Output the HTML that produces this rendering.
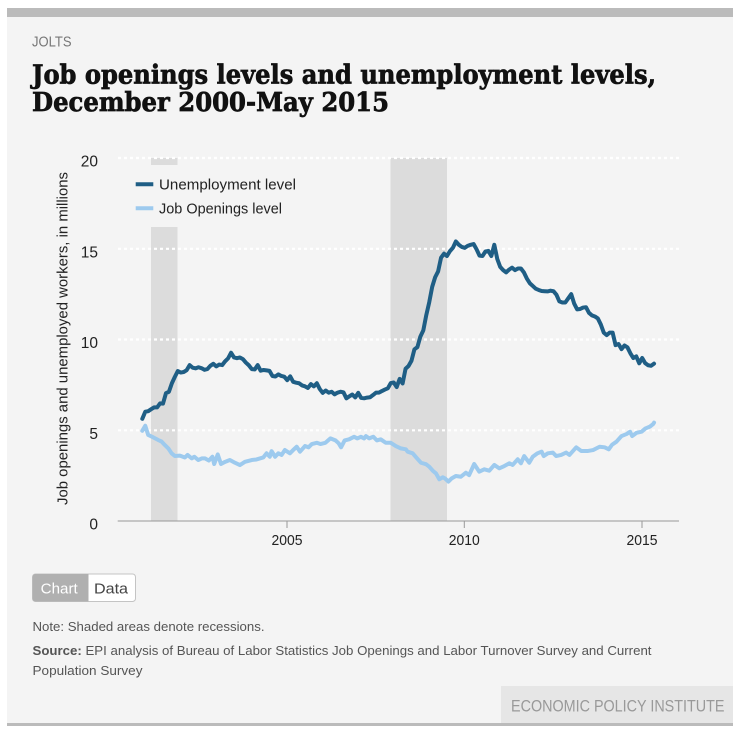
<!DOCTYPE html>
<html>
<head>
<meta charset="utf-8">
<style>
html,body{margin:0;padding:0;background:#fff;}
svg{display:block;}
text{font-family:"Liberation Sans",sans-serif;}
</style>
</head>
<body>
<svg width="750" height="739" viewBox="0 0 750 739" xmlns="http://www.w3.org/2000/svg">
  <rect x="0" y="0" width="750" height="739" fill="#ffffff"/>
  <!-- panel -->
  <rect x="7" y="8" width="726" height="718" fill="#f4f4f4"/>
  <rect x="7" y="8" width="726" height="9" fill="#bbbbbb"/>
  <rect x="7" y="723" width="726" height="3" fill="#bbbbbb"/>
  <rect x="501" y="686" width="232" height="37" fill="#e6e6e6"/>

  <!-- header -->
  <text x="32" y="46.7" font-size="15" fill="#777" textLength="39.5" lengthAdjust="spacingAndGlyphs">JOLTS</text>
  <text x="32" y="83.5" font-size="26" font-weight="bold" fill="#111" stroke="#111" stroke-width="0.7" style="font-family:'DejaVu Serif','Liberation Serif',serif" textLength="624" lengthAdjust="spacingAndGlyphs">Job openings levels and unemployment levels,</text>
  <text x="32" y="111" font-size="26" font-weight="bold" fill="#111" stroke="#111" stroke-width="0.7" style="font-family:'DejaVu Serif','Liberation Serif',serif" textLength="357" lengthAdjust="spacingAndGlyphs">December 2000-May 2015</text>

  <!-- recession shading -->
  <rect x="151" y="158" width="26.5" height="363" fill="#dcdcdc"/>
  <rect x="390.5" y="158" width="56.5" height="363" fill="#dcdcdc"/>

  <!-- gridlines -->
  <g stroke="#ffffff" stroke-width="2.2" stroke-dasharray="3,3">
    <line x1="118" y1="158" x2="679" y2="158"/>
    <line x1="118" y1="248.8" x2="679" y2="248.8"/>
    <line x1="118" y1="339.5" x2="679" y2="339.5"/>
    <line x1="118" y1="430.3" x2="679" y2="430.3"/>
  </g>

  <!-- x axis -->
  <line x1="117.7" y1="521" x2="679" y2="521" stroke="#999" stroke-width="1"/>
  <g stroke="#999" stroke-width="1">
    <line x1="287" y1="521" x2="287" y2="528"/>
    <line x1="464.3" y1="521" x2="464.3" y2="528"/>
    <line x1="642" y1="521" x2="642" y2="528"/>
  </g>
  <g font-size="15" fill="#222" text-anchor="middle">
    <text x="287" y="545" textLength="31" lengthAdjust="spacingAndGlyphs">2005</text>
    <text x="464.3" y="545" textLength="31" lengthAdjust="spacingAndGlyphs">2010</text>
    <text x="642" y="545" textLength="31" lengthAdjust="spacingAndGlyphs">2015</text>
  </g>

  <!-- y labels -->
  <g font-size="15.5" fill="#222" text-anchor="end">
    <text x="98" y="166.5">20</text>
    <text x="98" y="257.3">15</text>
    <text x="98" y="348">10</text>
    <text x="98" y="438.8">5</text>
    <text x="98" y="529.5">0</text>
  </g>
  <text transform="translate(67.5,338.5) rotate(-90)" text-anchor="middle" font-size="15" fill="#222" textLength="333" lengthAdjust="spacingAndGlyphs">Job openings and unemployed workers, in millions</text>

  <!-- series -->
  <g transform="translate(142.3,521) scale(2.958,-18.15)">
    <polyline fill="none" stroke="#9dcaee" stroke-width="4" stroke-linejoin="round" stroke-linecap="round" vector-effect="non-scaling-stroke"
      points="0,4.97 1,5.25 2,4.74 3.7,4.61 5.4,4.46 6.5,4.38 7.6,4.19 8.8,4.0 9.9,3.73 11,3.58 12.7,3.6 14.4,3.5 15.3,3.64 16.7,3.45 17.6,3.54 18.9,3.36 20.1,3.45 21.2,3.45 22.5,3.33 23.7,3.54 24.3,3.14 25.5,3.67 26.6,3.14 28,3.26 29.6,3.36 31.3,3.21 33,3.08 34.7,3.26 37,3.36 38.6,3.39 40.9,3.5 42,3.73 43.1,3.54 43.7,3.85 44.9,3.54 46,3.73 47.1,3.64 48.2,3.91 49.9,3.73 51,3.91 52.2,4.09 53.3,3.82 55,4.13 56.2,4.06 57.3,4.24 59,4.31 60.2,4.24 61.9,4.31 63.6,4.55 65.3,4.44 66.4,4.28 67.2,4.06 68.4,4.44 69.9,4.5 71.6,4.64 72.7,4.55 73.9,4.64 75,4.55 75.6,4.68 76.7,4.55 78.1,4.64 79.3,4.44 80.6,4.5 82.3,4.31 84,4.31 85.7,4.13 87.4,4.0 89.1,3.95 89.7,3.82 91.4,3.73 92.9,3.45 94.2,3.21 95.9,3.13 97,2.99 98.2,2.77 99.3,2.62 100.4,2.3 101.6,2.41 102.3,2.35 103.5,2.17 104.6,2.35 106,2.48 107.7,2.44 109.4,2.66 110.5,2.53 112.2,3.14 113.9,2.72 115.6,2.85 117.3,2.77 119,3.09 120.7,2.9 122.4,3.03 124.1,3.18 125.2,3.09 126.9,3.4 128,3.18 129.1,3.58 130.8,3.21 132,3.54 133.6,3.73 135,3.82 135.7,3.58 137.1,3.73 138.8,3.77 139.9,3.58 141.6,3.64 143.3,3.77 144.4,3.64 146.7,4.06 148.4,3.86 150.7,3.86 152.4,3.91 154.6,4.09 156.3,4.06 157.7,3.95 158.8,4.2 160.3,4.37 162,4.68 163.7,4.79 164.9,4.92 165.6,4.68 167.1,4.86 168.8,4.92 170.1,5.1 171.6,5.2 172.7,5.34 173,5.42"/>
    <polyline fill="none" stroke="#1f5e85" stroke-width="4" stroke-linejoin="round" stroke-linecap="round" vector-effect="non-scaling-stroke"
      points="0,5.63 1,6.02 2,6.05 3,6.16 4,6.26 5,6.26 6,6.48 7,6.47 8,7.04 9,7.12 10,7.59 11,7.94 12,8.26 13,8.18 14,8.21 15,8.31 16,8.59 17,8.45 18,8.41 19,8.47 20,8.42 21,8.33 22,8.37 23,8.55 24,8.66 25,8.52 26,8.62 27,8.59 28,8.8 29,8.96 30,9.27 31,9.01 32,8.97 33,9.01 34,8.92 35,8.73 36,8.58 37,8.37 38,8.35 39,8.59 40,8.28 41,8.32 42,8.3 43,8.27 44,7.99 45,7.96 46,8.08 47,7.99 48,7.95 49,7.76 50,7.97 51,7.67 52,7.62 53,7.59 54,7.47 55,7.42 56,7.33 57,7.54 58,7.42 59,7.59 60,7.27 61,7.06 62,7.19 63,7.07 64,7.12 65,6.98 66,7.07 67,7.12 68,7.09 69,6.76 70,6.87 71,6.97 72,6.81 73,7.06 74,6.78 75,6.76 76,6.8 77,6.82 78,6.94 79,7.07 80,7.07 81,7.16 82,7.24 83,7.31 84,7.6 85,7.63 86,7.38 87,7.83 88,7.58 89,8.39 90,8.54 91,8.83 92,9.46 93,9.58 94,10.16 95,10.5 96,11.34 97,12.05 98,12.9 99,13.43 100,13.75 101,14.51 102,14.73 103,14.6 104,14.87 105,15.05 106,15.4 107,15.22 108,15.1 109,15.05 110,15.16 111,15.22 112,15.26 113,14.97 114,14.62 115,14.6 116,14.85 117,14.88 118,14.6 119,15.22 120,14.44 121,14.0 122,13.82 123,13.7 124,13.85 125,13.96 126,13.82 127,13.91 128,13.91 129,13.7 130,13.36 131,13.1 132,12.95 133,12.8 134,12.73 135,12.67 136,12.66 137,12.65 138,12.69 139,12.66 140,12.47 141,12.1 142,12.04 143,12.04 144,12.27 145,12.5 146,11.98 147,11.66 148,11.68 149,11.76 150,11.78 151,11.47 152,11.33 153,11.27 154,11.16 155,10.83 156,10.38 157,10.24 158,10.38 159,10.38 160,9.69 161,9.75 162,9.47 163,9.67 164,9.57 165,9.24 166,8.98 167,9.07 168,8.69 169,8.98 170,8.7 171,8.58 172,8.55 173,8.67"/>
  </g>

  <!-- legend -->
  <rect x="128" y="165" width="178" height="62" fill="#f4f4f4"/>
  <line x1="135.7" y1="184.3" x2="153.3" y2="184.3" stroke="#1f5e85" stroke-width="4"/>
  <line x1="135.7" y1="208.3" x2="153.3" y2="208.3" stroke="#9dcaee" stroke-width="4"/>
  <text x="159" y="189.5" font-size="15" fill="#222" textLength="137" lengthAdjust="spacingAndGlyphs">Unemployment level</text>
  <text x="159" y="213.5" font-size="15" fill="#222" textLength="123" lengthAdjust="spacingAndGlyphs">Job Openings level</text>

  <!-- toggle -->
  <rect x="32.5" y="574" width="103" height="27.5" rx="3" ry="3" fill="#ffffff" stroke="#c4c4c4" stroke-width="1"/>
  <path d="M35.5,574 H88.5 V601.5 H35.5 A3,3 0 0 1 32.5,598.5 V577 A3,3 0 0 1 35.5,574 Z" fill="#b0b0b0"/>
  <text x="40.7" y="593.3" font-size="15" fill="#ffffff" textLength="37" lengthAdjust="spacingAndGlyphs">Chart</text>
  <text x="94" y="593.3" font-size="15" fill="#444" textLength="34" lengthAdjust="spacingAndGlyphs">Data</text>

  <!-- notes -->
  <text x="32.5" y="631" font-size="13" fill="#555" textLength="232" lengthAdjust="spacingAndGlyphs">Note: Shaded areas denote recessions.</text>
  <text x="32.5" y="655" font-size="13" fill="#555" textLength="619" lengthAdjust="spacingAndGlyphs"><tspan font-weight="bold">Source:</tspan> EPI analysis of Bureau of Labor Statistics Job Openings and Labor Turnover Survey and Current</text>
  <text x="32.5" y="675" font-size="13" fill="#555" textLength="110" lengthAdjust="spacingAndGlyphs">Population Survey</text>

  <!-- EPI -->
  <text x="511" y="711.7" font-size="16.5" fill="#999" textLength="213.5" lengthAdjust="spacingAndGlyphs">ECONOMIC POLICY INSTITUTE</text>
</svg>
</body>
</html>
